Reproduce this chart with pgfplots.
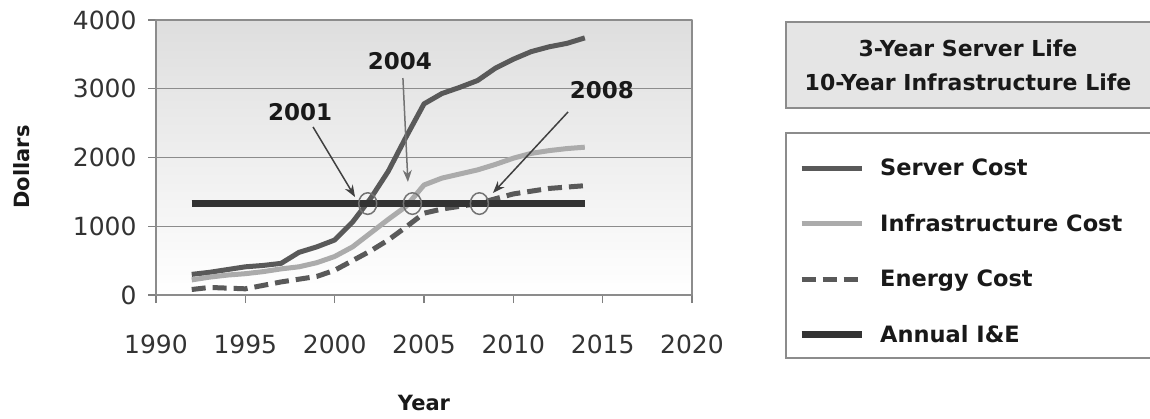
\documentclass[border=0pt]{standalone}
\usepackage{fontspec}
\setmainfont{DejaVu Sans}
\usepackage{pgfplots}
\usepackage{pgfplotstable}
\pgfplotsset{compat=1.18}
\usetikzlibrary{arrows.meta}

% yearly cost per server (dollars)
\pgfplotstableread{
year server infra energy annual
1992 300 220 80 1330
1993 330 260 110 1330
1994 370 290 100 1330
1995 410 310 90 1330
1996 430 340 140 1330
1997 460 380 190 1330
1998 620 410 230 1330
1999 700 470 270 1330
2000 800 560 360 1330
2001 1060 700 500 1330
2002 1400 900 640 1330
2003 1800 1100 800 1330
2004 2300 1290 990 1330
2005 2780 1600 1190 1330
2006 2930 1700 1250 1330
2007 3020 1760 1290 1330
2008 3120 1820 1330 1330
2009 3300 1900 1400 1330
2010 3430 1990 1470 1330
2011 3540 2060 1510 1330
2012 3610 2100 1550 1330
2013 3660 2130 1570 1330
2014 3740 2150 1590 1330
}\costs

\begin{document}
\begin{tikzpicture}
\useasboundingbox (0pt,0pt) rectangle (1150pt,418pt);

% assumptions box
\draw[black!45, line width=1.2pt, fill=black!10] (786pt,396pt) rectangle (1170pt,310pt);
\node[font=\bfseries\fontsize{22}{34}\selectfont, align=center, text=black!90]
  at (968pt,353pt) {3-Year Server Life\\10-Year Infrastructure Life};
% legend frame
\draw[black!45, line width=1.2pt] (786pt,285pt) rectangle (1170pt,60pt);

\begin{axis}[
  at={(156pt,123pt)}, anchor=south west,
  scale only axis, width=536pt, height=275pt,
  xmin=1990, xmax=2020, ymin=0, ymax=4000,
  xtick={1990,1995,...,2020}, ytick={0,1000,...,4000},
  /pgf/number format/1000 sep={},
  /pgf/number format/assume math mode=true,
  tick label style={font=\fontsize{25}{30}\selectfont, text=black!80},
  xticklabel style={yshift=-28pt},
  yticklabel style={xshift=-8pt},
  tick pos=left, tick align=outside, major tick length=8pt,
  tick style={black!50, line width=1.2pt},
  axis line style={black!45, line width=1.2pt},
  ymajorgrids, major grid style={black!45, line width=1.2pt},
  axis background/.style={shade, top color=black!13, bottom color=white},
  xlabel={Year}, ylabel={Dollars},
  label style={font=\bfseries\fontsize{21}{26}\selectfont, text=black!90},
  xlabel style={at={(axis description cs:0.5,-0.393)}, anchor=center},
  ylabel style={at={(axis description cs:-0.25,0.465)}, anchor=center},
  legend style={at={(rel axis cs:1.1978,0.5018)}, anchor=north west,
    draw=none, fill=none, inner sep=0pt, row sep=33pt, column sep=13pt,
    font=\bfseries\fontsize{22.5}{26}\selectfont, text=black!90},
  legend cell align=left,
  legend image code/.code={\draw[#1] (0pt,0pt) -- (60pt,0pt);},
  line join=round,
]
\addplot[black!65, line width=5pt] table[x=year, y=server] {\costs};
\addlegendentry{Server Cost}
\addplot[black!33, line width=5pt] table[x=year, y=infra] {\costs};
\addlegendentry{Infrastructure Cost}
\addplot[black!65, line width=5pt, dash pattern=on 14pt off 7pt] table[x=year, y=energy] {\costs};
\addlegendentry{Energy Cost}
\addplot[black!80, line width=7pt] table[x=year, y=annual] {\costs};
\addlegendentry{Annual I\&E}

% break-even points
\addplot[only marks, mark=o, mark size=9pt, forget plot,
  mark options={draw=black!55, line width=1.5pt, yscale=1.2}]
  coordinates {(2001.85,1330) (2004.35,1330) (2008.1,1330)};

\node[font=\bfseries\fontsize{23}{28}\selectfont, text=black!90] at (axis cs:1998.06,2662) {2001};
\node[font=\bfseries\fontsize{23}{28}\selectfont, text=black!90] at (axis cs:2003.65,3404) {2004};
\node[font=\bfseries\fontsize{23}{28}\selectfont, text=black!90] at (axis cs:2014.96,2982) {2008};
\draw[-{Stealth[length=12pt,width=9pt]}, line width=1.5pt, black!75]
  (axis cs:1998.79,2444) -- (axis cs:2001.14,1425);
\draw[-{Stealth[length=12pt,width=9pt]}, line width=1.5pt, black!55]
  (axis cs:2003.82,3156) -- (axis cs:2004.10,1644);
\draw[-{Stealth[length=12pt,width=9pt]}, line width=1.5pt, black!75]
  (axis cs:2013.06,2662) -- (axis cs:2008.86,1484);
\end{axis}
\end{tikzpicture}
\end{document}
